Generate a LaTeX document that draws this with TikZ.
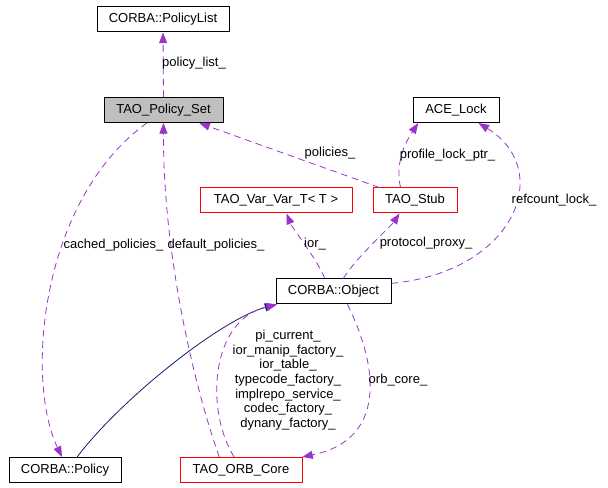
\documentclass[tikz,border=0pt]{standalone}
\usepackage{fontspec}
\setmainfont{Liberation Sans}
\usetikzlibrary{arrows.meta}
\definecolor{edgepurple}{HTML}{9A32CD}
\definecolor{edgenavy}{HTML}{191970}
\definecolor{boxgray}{HTML}{BFBFBF}
\begin{document}
\begin{tikzpicture}[x=0.75pt,y=-0.75pt,
  every node/.style={font=\fontsize{9.75}{11}\selectfont},
  cls/.style={draw=black, line width=0.75pt, minimum height=18.75pt, inner sep=0pt},
  redcls/.style={cls, draw=red},
  uses/.style={draw=edgepurple, line width=0.6pt, dash pattern=on 5pt off 3.5pt,
    -{Triangle[length=8pt,width=6pt,fill=edgepurple]}},
  isa/.style={draw=edgenavy, line width=0.6pt,
    -{Triangle[length=8pt,width=6pt,fill=edgenavy]}},
  lbl/.style={inner sep=0pt, align=center}]
\useasboundingbox (0,0) rectangle (608,488);
\node[cls, minimum width=99pt] (plist) at (163,19.5) {CORBA::PolicyList};
\node[cls, fill=boxgray, minimum width=89.25pt] (setp) at (163.5,110) {TAO\_Policy\_Set};
\node[cls, minimum width=64.5pt] (lock) at (456,110) {ACE\_Lock};
\node[redcls, minimum width=114pt] (varvar) at (276,200.5) {TAO\_Var\_Var\_T< T >};
\node[redcls, minimum width=63pt] (stub) at (415,200.5) {TAO\_Stub};
\node[cls, minimum width=86.25pt] (obj) at (333.5,291.5) {CORBA::Object};
\node[cls, minimum width=84pt] (pol) at (65,470) {CORBA::Policy};
\node[redcls, minimum width=91.5pt] (orb) at (241,470) {TAO\_ORB\_Core};

\draw[uses] (setp.north) -- (plist.south) node[lbl] at (194,63) {policy\_list\_};
\draw[uses] (stub.160) -- (setp.340) node[lbl] at (330,153) {policies\_};
\draw[uses] (stub.138)..controls +(-6,-25) and +(-12,18)..(lock.199)
  node[lbl] at (447.5,155) {profile\_lock\_ptr\_};
\draw[uses] (obj.8)..controls (515,272) and (555,170)..(lock.330)
  node[lbl] at (554,200) {refcount\_lock\_};
\draw[uses] (obj.124)..controls +(-8,-20) and +(6,15)..(varvar.309)
  node[lbl] at (315,244) {ior\_};
\draw[uses] (obj.53)..controls +(12,-20) and +(-8,12)..(stub.220)
  node[lbl] at (426,243) {protocol\_proxy\_};
\draw[uses] (setp.218)..controls (40,200) and (25,380)..(pol.103)
  node[lbl] at (113.5,245) {cached\_policies\_};
\draw[uses] (orb.149)..controls (197,395) and (163,260)..(setp.south)
  node[lbl] at (216,245) {default\_policies\_};
\draw[isa] (pol.47)..controls (120,400) and (220,320)..(obj.south west);
\draw[uses] (orb.118)..controls (205,410) and (210,320)..(obj.193)
  node[lbl] at (288,380) {pi\_current\_\\ior\_manip\_factory\_\\ior\_table\_\\typecode\_factory\_\\implrepo\_service\_\\codec\_factory\_\\dynany\_factory\_};
\draw[uses] (obj.317)..controls (380,370) and (385,440)..(orb.12)
  node[lbl] at (398,380) {orb\_core\_};
\end{tikzpicture}
\end{document}
